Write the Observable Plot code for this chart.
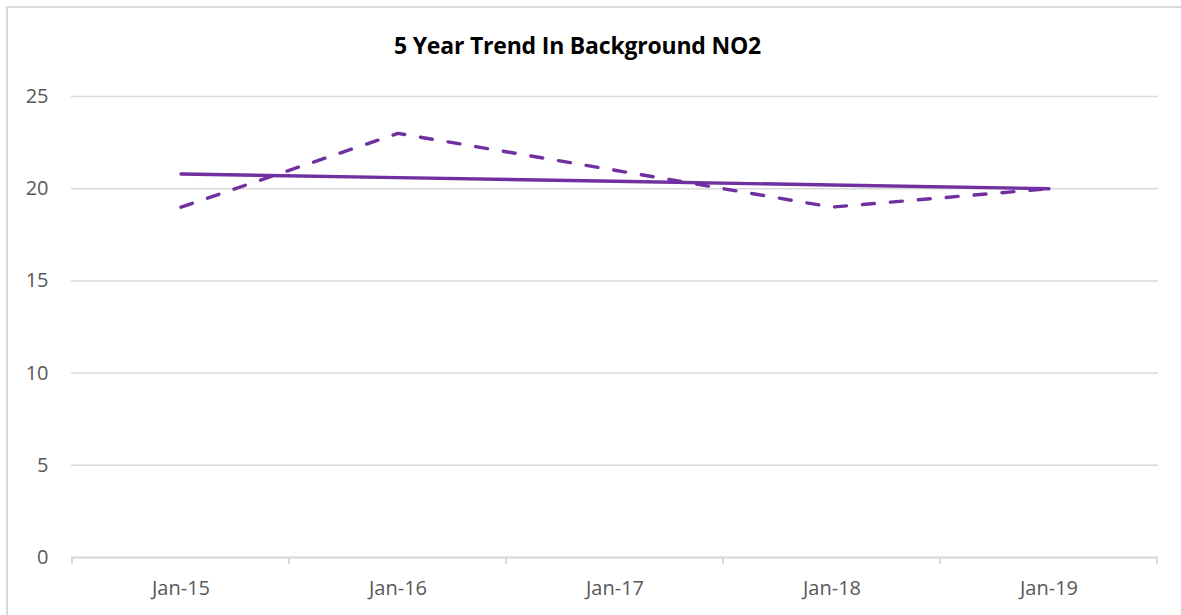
<!DOCTYPE html>
<html>
<head>
<meta charset="utf-8">
<script src="https://cdn.jsdelivr.net/npm/d3@7"></script>
<script src="https://cdn.jsdelivr.net/npm/@observablehq/plot@0.6"></script>
<style>
  html, body { margin: 0; padding: 0; background: #fff; }
  #wrap { position: relative; width: 1181px; height: 615px; overflow: hidden; }
  #frame { position: absolute; left: 6px; top: 6px; width: 1200px; height: 640px; border: 2px solid #d9d9d9; box-sizing: border-box; }
  #title { position: absolute; left: 0; width: 1155px; top: 29px; text-align: center; font-family: "Open Sans", sans-serif; font-weight: bold; font-size: 23px; color: #000; letter-spacing: -0.2px; }
  #chart { position: absolute; left: 0; top: 0; }
</style>
</head>
<body>
<div id="wrap">
  <div id="frame"></div>
  <div id="chart"></div>
  <div id="title">5 Year Trend In Background NO2</div>
</div>
<script>
const categories = ["Jan-15", "Jan-16", "Jan-17", "Jan-18", "Jan-19"];
const no2Values = [19, 23, 21, 19, 20];
const trendValues = [20.8, 20.6, 20.4, 20.2, 20.0];
const yTicks = [0, 5, 10, 15, 20, 25];

const actual = categories.map((c, i) => ({cat: c, v: no2Values[i]}));
const trend = categories.map((c, i) => ({cat: c, v: trendValues[i]}));

const purple = "#7030A0";

const chart = Plot.plot({
  width: 1181,
  height: 615,
  marginLeft: 71,
  marginRight: 23,
  marginTop: 96,
  marginBottom: 58,
  style: {fontFamily: "'Open Sans', sans-serif", fontSize: "20px", color: "#595959", background: "transparent"},
  x: {type: "band", domain: categories, padding: 0, label: null},
  y: {domain: [0, 25], ticks: yTicks, label: null},
  marks: [
    Plot.gridY(yTicks, {stroke: "#d9d9d9", strokeOpacity: 1, strokeWidth: 1.5}),
    Plot.axisY(yTicks, {tickSize: 0, tickPadding: 23, fill: "#595959", fontSize: 20}),
    Plot.ruleY([0], {stroke: "#d9d9d9", strokeWidth: 2}),
    Plot.axisX({tickSize: 0, tickPadding: 23, fill: "#595959", fontSize: 20}),
    Plot.lineY(trend, {x: "cat", y: "v", stroke: purple, strokeWidth: 3.4, strokeLinecap: "round"}),
    Plot.lineY(actual, {x: "cat", y: "v", stroke: purple, strokeWidth: 3.4, strokeLinecap: "round", strokeDasharray: "12,16"})
  ]
});

// band boundary tick marks below the axis, derived from the x scale
const xs = chart.scale("x");
const ys = chart.scale("y");
const ns = "http://www.w3.org/2000/svg";
const g = document.createElementNS(ns, "g");
const bounds = categories.map(c => xs.apply(c));
bounds.push(xs.apply(categories[categories.length - 1]) + xs.bandwidth);
const y0 = ys.apply(0);
for (const bx of bounds) {
  const l = document.createElementNS(ns, "line");
  l.setAttribute("x1", bx); l.setAttribute("x2", bx);
  l.setAttribute("y1", y0); l.setAttribute("y2", y0 + 7);
  l.setAttribute("stroke", "#d9d9d9"); l.setAttribute("stroke-width", "2");
  g.appendChild(l);
}
chart.insertBefore(g, chart.firstChild.nextSibling);
document.getElementById("chart").appendChild(chart);
</script>
</body>
</html>
